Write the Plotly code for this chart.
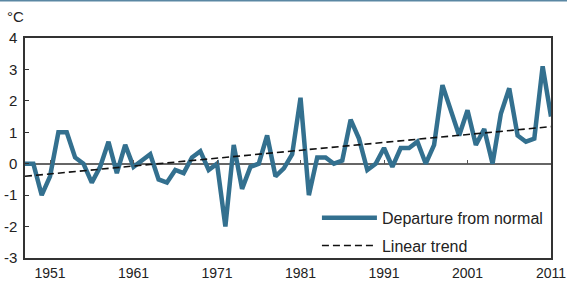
import plotly.graph_objects as go

years = list(range(1948, 2012))
departure = [0.0, 0.0, -1.0, -0.4, 1.0, 1.0, 0.2, 0.0, -0.6, -0.1,
             0.7, -0.3, 0.6, -0.1, 0.1, 0.3, -0.5, -0.6, -0.2, -0.3,
             0.2, 0.4, -0.2, 0.0, -2.0, 0.6, -0.8, -0.1, 0.0, 0.9,
             -0.4, -0.15, 0.3, 2.1, -1.0, 0.2, 0.2, 0.0, 0.1, 1.4,
             0.8, -0.2, 0.0, 0.5, -0.1, 0.5, 0.5, 0.7, 0.0, 0.6,
             2.5, 1.7, 0.9, 1.7, 0.6, 1.1, 0.0, 1.6, 2.4, 0.9,
             0.7, 0.8, 3.1, 1.5]
trend_years = [1948, 2011]
trend_values = [-0.4, 1.18]

x_tickvals = [1951, 1961, 1971, 1981, 1991, 2001, 2011]
x_ticktext = ["1951", "1961", "1971", "1981", "1991", "2001", "2011"]
y_tickvals = [-3, -2, -1, 0, 1, 2, 3, 4]
y_ticktext = ["-3", "-2", "-1", "0", "1", "2", "3", "4"]

BLUE = "#33708f"
FONT = "Liberation Sans, Arial, sans-serif"

fig = go.Figure()
fig.add_trace(go.Scatter(x=years, y=departure, mode="lines", name="Departure from normal",
                         legendgroup="a", line=dict(color=BLUE, width=4.5)))
fig.add_trace(go.Scatter(x=trend_years, y=trend_values, mode="lines", name="Linear trend",
                         legendgroup="b", line=dict(color="#111111", width=1.6, dash="7px,4px")))

fig.update_layout(
    width=567, height=282,
    margin=dict(l=25, r=16, t=38, b=24, autoexpand=False),
    paper_bgcolor="white", plot_bgcolor="white",
    font=dict(family=FONT, size=14, color="#222222"),
    showlegend=True,
    legend=dict(x=0.555, y=-0.022, xanchor="left", yanchor="bottom",
                bgcolor="rgba(255,255,255,0)", borderwidth=0, itemwidth=55,
                font=dict(size=16, color="#222222"), tracegroupgap=4,
                traceorder="grouped"),
    xaxis=dict(range=[1948, 2011], tickvals=x_tickvals, ticktext=x_ticktext,
               showgrid=False, zeroline=False, ticks="", showline=True,
               linecolor="#333333", linewidth=1.5, mirror=True,
               ticklabelstandoff=1, automargin=False),
    xaxis2=dict(range=[1948, 2011], overlaying="x", anchor="free", position=3/7,
                side="bottom", tickvals=x_tickvals, ticks="inside", ticklen=4,
                tickcolor="#555555", showticklabels=False, showline=False,
                showgrid=False, zeroline=False, automargin=False),
    yaxis=dict(range=[-3, 4], tickvals=y_tickvals, ticktext=y_ticktext,
               showgrid=False, zeroline=True, zerolinecolor="#666666", zerolinewidth=1.5,
               ticks="inside", ticklen=4, tickcolor="#333333",
               showline=True, linecolor="#333333", linewidth=1.5, mirror=True,
               ticklabelstandoff=3, automargin=False, tickfont=dict(size=15)),
    annotations=[dict(text="°C", xref="paper", yref="paper", x=-0.018, y=1.05,
                      xanchor="center", yanchor="bottom", showarrow=False,
                      font=dict(size=15, color="#222222"))],
    shapes=[dict(type="line", xref="paper", yref="paper", x0=-0.1, x1=1.1,
                 y0=1 + 37.5 / 220, y1=1 + 37.5 / 220,
                 line=dict(color="#5a87a3", width=2))],
)
# invisible helper trace so the zero-line tick axis renders
fig.add_trace(go.Scatter(x=[years[0]], y=[departure[0]], xaxis="x2", mode="lines",
                         showlegend=False, hoverinfo="skip", line=dict(width=0)))

fig.write_html("out.html", config={"displayModeBar": False},
               post_script="document.body.style.margin='0';document.body.style.overflow='hidden';")
